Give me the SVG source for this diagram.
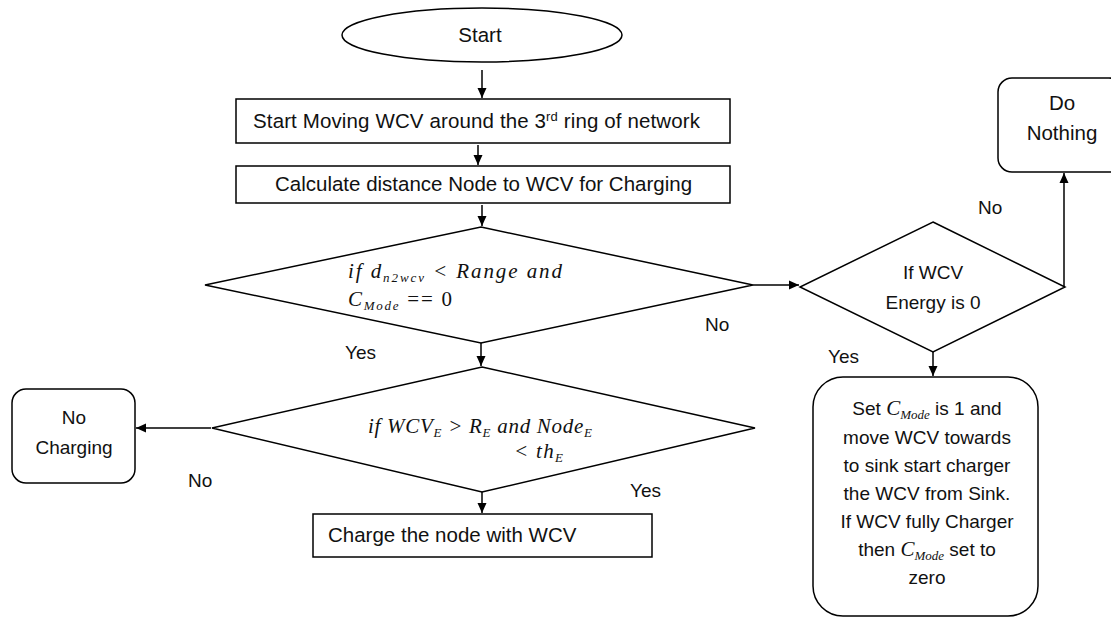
<svg xmlns="http://www.w3.org/2000/svg" width="1111" height="619" viewBox="0 0 1111 619">
<style>
.shape{fill:#fff;stroke:#000;stroke-width:1.5}
.t{font-family:"Liberation Sans",Arial,sans-serif;font-size:19px;fill:#111}
.big{font-size:20.5px}
.c{text-anchor:middle}
.m{font-family:"Liberation Serif","Times New Roman",serif;font-style:italic;font-size:21px;fill:#111}
.sub{font-size:13px}
.conn{fill:none;stroke:#000;stroke-width:1.5}
</style>
<defs>
<marker id="ah" markerUnits="userSpaceOnUse" markerWidth="10" markerHeight="10" refX="10" refY="5" orient="auto">
<path d="M0,0.5 L10,5 L0,9.5 z" fill="#000"/>
</marker>
</defs>
<rect width="1111" height="619" fill="#fff"/>
<g id="connectors">
<line class="conn" x1="482" y1="70" x2="482" y2="98" marker-end="url(#ah)"/>
<line class="conn" x1="478" y1="145" x2="478" y2="165" marker-end="url(#ah)"/>
<line class="conn" x1="482" y1="205" x2="482" y2="226" marker-end="url(#ah)"/>
<line class="conn" x1="481" y1="343" x2="481" y2="366" marker-end="url(#ah)"/>
<line class="conn" x1="753" y1="285" x2="799" y2="285" marker-end="url(#ah)"/>
<line class="conn" x1="1064" y1="287" x2="1064" y2="173" marker-end="url(#ah)"/>
<line class="conn" x1="933" y1="352" x2="933" y2="376" marker-end="url(#ah)"/>
<line class="conn" x1="211" y1="428" x2="136" y2="428" marker-end="url(#ah)"/>
<line class="conn" x1="482" y1="492" x2="482" y2="513" marker-end="url(#ah)"/>
<text class="t" x="345" y="359">Yes</text>
<text class="t" x="705" y="331">No</text>
<text class="t" x="828" y="363">Yes</text>
<text class="t" x="978" y="214">No</text>
<text class="t" x="188" y="487">No</text>
<text class="t" x="630" y="497">Yes</text>
</g>
<g id="start">
<ellipse class="shape" cx="482" cy="35" rx="140" ry="27"/>
<text class="t big c" x="480" y="42">Start</text>
</g>
<g id="move">
<rect class="shape" x="236" y="99" width="494" height="44"/>
<text class="t big" x="253" y="128" textLength="447" lengthAdjust="spacing">Start Moving WCV around the 3<tspan font-size="13" dy="-7">rd</tspan><tspan dy="7"> ring of network</tspan></text>
</g>
<g id="calc">
<rect class="shape" x="236" y="166" width="494" height="37"/>
<text class="t big" x="275" y="191">Calculate distance Node to WCV for Charging</text>
</g>
<g id="check-range">
<polygon class="shape" points="481,227 753,285 481,343 205,285"/>
<text class="m" x="348" y="278" textLength="214" lengthAdjust="spacing">if d<tspan class="sub" dy="4">n2wcv</tspan><tspan dy="-4"> &lt; Range and</tspan></text>
<text class="m" x="348" y="306" textLength="104" lengthAdjust="spacing">C<tspan class="sub" dy="4">Mode</tspan><tspan dy="-4" font-style="normal"> == 0</tspan></text>
</g>
<g id="check-energy">
<polygon class="shape" points="482,367 755,428 482,492 212,428"/>
<text class="m" x="368" y="433" textLength="224" lengthAdjust="spacing">if WCV<tspan class="sub" dy="4">E</tspan><tspan dy="-4"> &gt; R</tspan><tspan class="sub" dy="4">E</tspan><tspan dy="-4"> and  Node</tspan><tspan class="sub" dy="4">E</tspan></text>
<text class="m" x="514" y="458" textLength="49" lengthAdjust="spacing">&lt; th<tspan class="sub" dy="4">E</tspan></text>
</g>
<g id="no-charging">
<rect class="shape" x="12" y="389" width="123" height="94" rx="14"/>
<text class="t c" x="74" y="424" font-size="20">No</text>
<text class="t c" x="74" y="454" font-size="20">Charging</text>
</g>
<g id="charge">
<rect class="shape" x="313" y="514" width="339" height="43"/>
<text class="t big" x="328" y="542">Charge the node with WCV</text>
</g>
<g id="wcv-energy">
<polygon class="shape" points="933,222 1065,287 933,352 800,287"/>
<text class="t c" x="933" y="279">If WCV</text>
<text class="t c" x="933" y="309">Energy is 0</text>
</g>
<g id="do-nothing">
<rect class="shape" x="998" y="78" width="125" height="94" rx="14"/>
<text class="t big c" x="1062" y="110">Do</text>
<text class="t big c" x="1062" y="140">Nothing</text>
</g>
<g id="set-mode">
<rect class="shape" x="813" y="377" width="225" height="239" rx="30"/>
<text class="t c" x="927" y="415">Set <tspan class="m" font-size="19">C</tspan><tspan class="m sub" font-size="12" dy="4">Mode</tspan><tspan dy="-4"> is 1 and</tspan></text>
<text class="t c" x="927" y="444">move WCV towards</text>
<text class="t c" x="927" y="472">to sink start charger</text>
<text class="t c" x="927" y="500">the WCV from Sink.</text>
<text class="t c" x="927" y="528">If WCV fully Charger</text>
<text class="t c" x="927" y="556">then <tspan class="m" font-size="19">C</tspan><tspan class="m sub" font-size="12" dy="4">Mode</tspan><tspan dy="-4"> set to</tspan></text>
<text class="t c" x="927" y="584">zero</text>
</g>
</svg>
